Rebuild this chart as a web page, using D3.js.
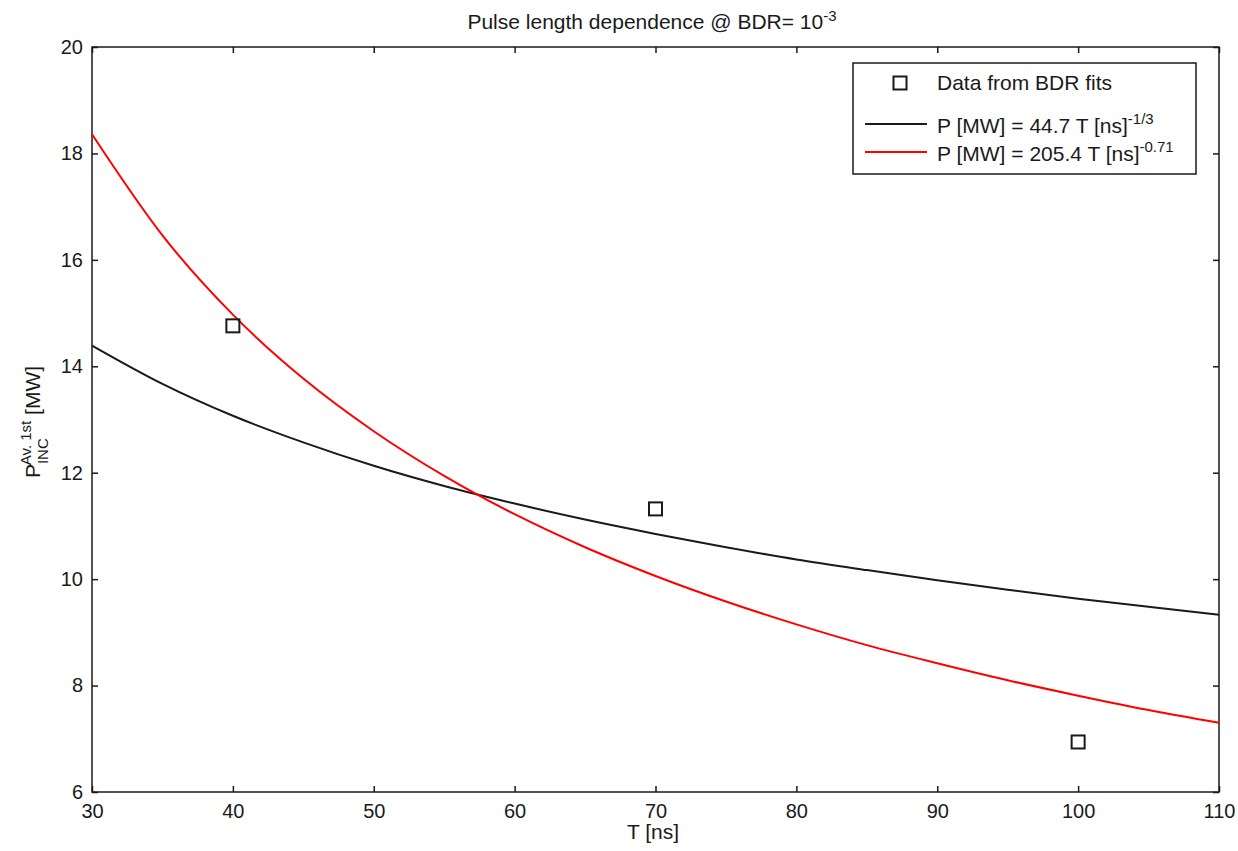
<!DOCTYPE html>
<html>
<head>
<meta charset="utf-8">
<script src="https://cdn.jsdelivr.net/npm/d3@7"></script>
<style>
  html, body { margin: 0; padding: 0; background: #fff; }
  svg { display: block; }
  text { font-family: "Liberation Sans", Arial, Helvetica, sans-serif; fill: #1a1a1a; }
</style>
</head>
<body>
<svg id="chart" width="1238" height="851"></svg>
<script>
// Measured breakdown-rate data points (pulse length in ns, power in MW)
const dataT = [40, 70, 100];
const dataP = [14.76, 11.32, 6.94];

// Fit curves sampled every 5 ns
const fitT = [30, 35, 40, 45, 50, 55, 60, 65, 70, 75, 80, 85, 90, 95, 100, 105, 110];
// P = 44.7 T^-1/3
const fitBlack = [14.39, 13.67, 13.07, 12.57, 12.13, 11.75, 11.42, 11.12, 10.85, 10.60, 10.37, 10.17, 9.98, 9.80, 9.63, 9.48, 9.33];
// P = 205.4 T^-0.71
const fitRed = [18.36, 16.46, 14.97, 13.77, 12.78, 11.94, 11.22, 10.60, 10.06, 9.58, 9.15, 8.76, 8.42, 8.10, 7.81, 7.54, 7.30];

const xTicks = [30, 40, 50, 60, 70, 80, 90, 100, 110];
const yTicks = [6, 8, 10, 12, 14, 16, 18, 20];

const svg = d3.select("#chart");
const L = 92, R = 1219, T = 47, B = 792;

const x = d3.scaleLinear().domain([30, 110]).range([L, R]);
const y = d3.scaleLinear().domain([6, 20]).range([B, T]);

const ink = "#1a1a1a";
const tickFont = 20;
const textFont = 21;
const supFont = 15;

// Axes with inward ticks on all four sides
const gx = svg.append("g").attr("transform", `translate(0,${B})`)
  .call(d3.axisBottom(x).tickValues(xTicks).tickSizeInner(-6).tickSizeOuter(0).tickPadding(9));
const gxTop = svg.append("g").attr("transform", `translate(0,${T})`)
  .call(d3.axisTop(x).tickValues(xTicks).tickSizeInner(-6).tickSizeOuter(0).tickFormat(""));
const gy = svg.append("g").attr("transform", `translate(${L},0)`)
  .call(d3.axisLeft(y).tickValues(yTicks).tickSizeInner(-6).tickSizeOuter(0).tickPadding(9));
const gyR = svg.append("g").attr("transform", `translate(${R},0)`)
  .call(d3.axisRight(y).tickValues(yTicks).tickSizeInner(-6).tickSizeOuter(0).tickFormat(""));

[gx, gxTop, gy, gyR].forEach(g => {
  g.select(".domain").remove();
  g.selectAll(".tick line").attr("stroke", ink).attr("stroke-width", 1.5);
  g.selectAll("text").attr("font-size", tickFont).style("fill", ink)
    .attr("font-family", "'Liberation Sans', Arial, sans-serif");
});
gx.selectAll("text").attr("dy", "0.85em");

// Plot frame
svg.append("rect").attr("x", L).attr("y", T).attr("width", R - L).attr("height", B - T)
  .attr("fill", "none").attr("stroke", ink).attr("stroke-width", 1.5);

// Fit curves
const line = d3.line().x((d, i) => x(fitT[i])).y(d => y(d)).curve(d3.curveMonotoneX);
svg.append("path").datum(fitBlack).attr("d", line)
  .attr("fill", "none").attr("stroke", "#1a1a1a").attr("stroke-width", 2);
svg.append("path").datum(fitRed).attr("d", line)
  .attr("fill", "none").attr("stroke", "#ff0000").attr("stroke-width", 2);

// Data squares
const sq = 13;
svg.append("g").selectAll("rect").data(dataP).join("rect")
  .attr("x", (d, i) => x(dataT[i]) - sq / 2)
  .attr("y", d => y(d) - sq / 2)
  .attr("width", sq).attr("height", sq)
  .attr("fill", "none").attr("stroke", ink).attr("stroke-width", 2);

// Title
const title = svg.append("text").attr("x", 652).attr("y", 29)
  .attr("text-anchor", "middle").attr("font-size", textFont);
title.append("tspan").text("Pulse length dependence @ BDR= 10");
title.append("tspan").attr("dy", -8).attr("font-size", supFont).text("-3");

// X label
svg.append("text").attr("x", 653).attr("y", 839).attr("text-anchor", "middle")
  .attr("font-size", textFont).text("T [ns]");

// Y label
const yl = svg.append("text").attr("transform", "translate(40,422) rotate(-90)")
  .attr("text-anchor", "middle").attr("font-size", textFont);
yl.append("tspan").text("P");
yl.append("tspan").attr("dy", 8).attr("font-size", supFont).text("INC");
yl.append("tspan").attr("dx", -27).attr("dy", -17).attr("font-size", supFont).text("Av. 1st");
yl.append("tspan").attr("dy", 9).text("  [MW]");

// Legend
const lg = svg.append("g");
lg.append("rect").attr("x", 853).attr("y", 63).attr("width", 343).attr("height", 111)
  .attr("fill", "#fff").attr("stroke", ink).attr("stroke-width", 1.5);
lg.append("rect").attr("x", 900 - sq / 2).attr("y", 83 - sq / 2).attr("width", sq).attr("height", sq)
  .attr("fill", "none").attr("stroke", ink).attr("stroke-width", 2);
lg.append("line").attr("x1", 865).attr("x2", 927).attr("y1", 124).attr("y2", 124)
  .attr("stroke", "#1a1a1a").attr("stroke-width", 2);
lg.append("line").attr("x1", 865).attr("x2", 927).attr("y1", 152).attr("y2", 152)
  .attr("stroke", "#ff0000").attr("stroke-width", 2);

lg.append("text").attr("x", 937).attr("y", 90).attr("font-size", textFont).text("Data from BDR fits");
const t1 = lg.append("text").attr("x", 937).attr("y", 133).attr("font-size", textFont);
t1.append("tspan").text("P [MW] = 44.7 T [ns]");
t1.append("tspan").attr("dy", -9).attr("font-size", supFont).text("-1/3");
const t2 = lg.append("text").attr("x", 937).attr("y", 161).attr("font-size", textFont);
t2.append("tspan").text("P [MW] = 205.4 T [ns]");
t2.append("tspan").attr("dy", -9).attr("font-size", supFont).text("-0.71");
</script>
</body>
</html>
